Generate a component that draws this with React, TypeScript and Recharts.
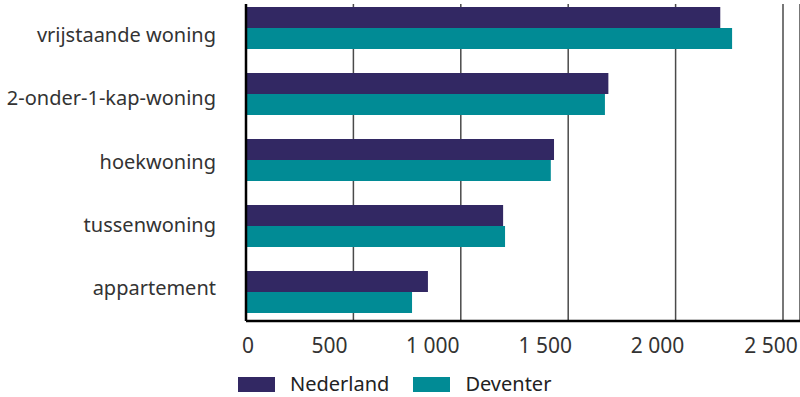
import React from "react";
import { BarChart, Bar, XAxis, YAxis, CartesianGrid, Legend } from "recharts";

const categories = [
  "vrijstaande woning",
  "2-onder-1-kap-woning",
  "hoekwoning",
  "tussenwoning",
  "appartement",
];
const nederland = [2208, 1687, 1434, 1197, 847];
const deventer = [2263, 1671, 1419, 1206, 773];
const xTicks = [0, 500, 1000, 1500, 2000, 2500];

const PURPLE = "#322863";
const TEAL = "#018b95";
const FONT = "'Noto Sans', sans-serif";

const data = categories.map((name, i) => ({
  name,
  Nederland: nederland[i],
  Deventer: deventer[i],
}));

const fmt = (v: number) => String(v).replace(/\B(?=(\d{3})+(?!\d))/g, " ");

// the source nudges its value labels a bit left of the gridlines
const tickShift = [2, -24, -28, -23, -18, -12];

function XTick(props: any) {
  const { x, y, payload, index } = props;
  return (
    <text
      x={x + (tickShift[index] ?? 0)}
      y={y}
      dy="0.71em"
      textAnchor="middle"
      fontSize={21}
      fontFamily={FONT}
      fill="#333"
    >
      {fmt(payload.value)}
    </text>
  );
}

function LegendBox() {
  const items = [
    { label: "Nederland", color: PURPLE },
    { label: "Deventer", color: TEAL },
  ];
  return (
    <div
      style={{
        height: 36,
        display: "flex",
        alignItems: "flex-start",
        paddingLeft: 238,
        paddingTop: 15,
        boxSizing: "border-box",
        fontFamily: FONT,
        fontSize: 20,
        color: "#222",
      }}
    >
      {items.map((it) => (
        <div key={it.label} style={{ display: "flex", alignItems: "flex-start", marginRight: 24 }}>
          <span style={{ width: 37, height: 15, background: it.color, marginRight: 15, marginTop: 1 }} />
          <span style={{ lineHeight: "15px" }}>{it.label}</span>
        </div>
      ))}
    </div>
  );
}

export default function App() {
  return (
    <div style={{ position: "absolute", left: 0, top: 0 }}>
      <BarChart
        width={800}
        height={397}
        data={data}
        layout="vertical"
        margin={{ top: 4, right: 0, left: 0, bottom: 0 }}
        barGap={0}
      >
        <CartesianGrid horizontal={false} stroke="#4a4a4a" strokeWidth={1.5} yAxisId="labels" />
        <XAxis
          type="number"
          domain={[0, 2500]}
          ticks={xTicks}
          padding={{ left: 0, right: 17 }}
          height={40}
          tickSize={0}
          tickMargin={17}
          axisLine={{ stroke: "#000", strokeWidth: 2.5 }}
          tick={<XTick />}
        />
        <YAxis
          yAxisId="labels"
          type="category"
          dataKey="name"
          width={246}
          tickSize={0}
          tickMargin={30}
          tickLine={false}
          axisLine={{ stroke: "#000", strokeWidth: 2.5 }}
          tick={{ fontSize: 20, fill: "#333", fontFamily: FONT, dy: -1 }}
        />
        <YAxis
          yAxisId="bars"
          type="category"
          dataKey="name"
          hide
          width={0}
          padding={{ top: -9, bottom: -4 }}
        />
        <Legend verticalAlign="bottom" content={() => <LegendBox />} />
        <Bar yAxisId="bars" dataKey="Nederland" fill={PURPLE} barSize={21} isAnimationActive={false} />
        <Bar yAxisId="bars" dataKey="Deventer" fill={TEAL} barSize={21} isAnimationActive={false} />
      </BarChart>
    </div>
  );
}
